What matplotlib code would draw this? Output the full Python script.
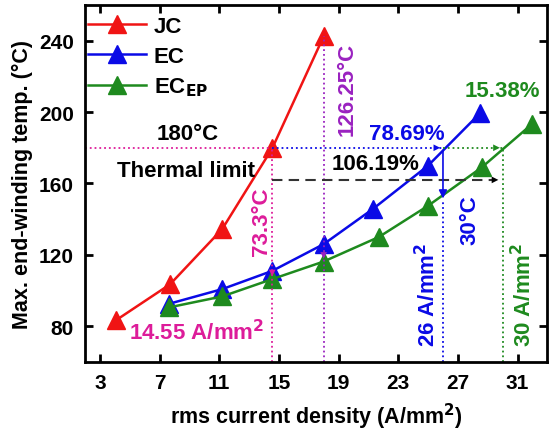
import numpy as np
import matplotlib.pyplot as plt

plt.rcParams['font.family'] = ['Liberation Sans', 'DejaVu Sans']
plt.rcParams['font.weight'] = 'bold'
plt.rcParams['axes.labelweight'] = 'bold'
plt.rcParams['mathtext.default'] = 'bf'

# data
jc_j = [4.1, 7.7, 11.2, 14.55, 18.0]
jc_t = [83.5, 103.5, 134.5, 179.7, 242.5]
ec_j = [7.6, 11.2, 14.55, 18.0, 21.3, 25.0, 28.5]
ec_t = [92.5, 100.8, 111.0, 126.0, 145.7, 170.0, 199.5]
ep_j = [7.6, 11.2, 14.55, 18.0, 21.7, 25.0, 28.6, 32.0]
ep_t = [90.5, 96.7, 106.4, 116.25, 130.0, 147.5, 169.0, 193.5]

t_limit = 180
j_jc, j_ec, j_ep = 14.55, 26.0, 30.0

red = '#F01414'
blue = '#0A0AE6'
green = '#1E8A1E'
magenta = '#DD1C9A'
purple = '#9A22C0'

fig = plt.figure(figsize=(5.49, 4.31), dpi=100)
ax = fig.add_axes([0.155, 0.158, 0.842, 0.828])

ax.plot(jc_j, jc_t, '-^', color=red, lw=1.8, ms=13, label='JC')
ax.plot(ec_j, ec_t, '-^', color=blue, lw=1.8, ms=13, label='EC')
ax.plot(ep_j, ep_t, '-^', color=green, lw=1.8, ms=13, label='EC$_{EP}$')

# thermal limit lines
ax.plot([2, j_jc], [t_limit, t_limit], ':', color=magenta, lw=1.3)
ax.plot([j_jc, j_ec], [t_limit, t_limit], ':', color=blue, lw=1.3)
ax.plot([j_ec, j_ep], [t_limit, t_limit], ':', color=green, lw=1.3)
ax.plot([j_jc, j_jc], [60, t_limit], ':', color=magenta, lw=1.3)
ax.plot([18.0, 18.0], [60, 242.5], ':', color=purple, lw=1.3)
ax.plot([j_ec, j_ec], [60, 150], ':', color=blue, lw=1.3)
ax.plot([j_ep, j_ep], [60, t_limit], ':', color=green, lw=1.3)
ax.plot([j_jc, 29.4], [162, 162], '--', color='#333333', lw=1.5, dashes=(5, 3))

arw = dict(arrowstyle='-|>', mutation_scale=12, lw=0)
ax.annotate('', xy=(j_ec, t_limit), xytext=(j_ec - 1.2, t_limit),
            arrowprops=dict(arw, color=blue))
ax.annotate('', xy=(j_ep, t_limit), xytext=(j_ep - 1.2, t_limit),
            arrowprops=dict(arw, color=green))
ax.annotate('', xy=(29.9, 162), xytext=(28.5, 162),
            arrowprops=dict(arw, color='black'))
ax.annotate('', xy=(j_jc, 106.4), xytext=(j_jc, 113),
            arrowprops=dict(arw, color=magenta))
ax.annotate('', xy=(18.0, 116.25), xytext=(18.0, 123),
            arrowprops=dict(arw, color=purple))
ax.annotate('', xy=(j_ec, 150), xytext=(j_ec, t_limit),
            arrowprops=dict(arrowstyle='-|>', mutation_scale=12, lw=1.2,
                            color=blue))

fs = 16
ax.text(8.9, 188, '180°C', fontsize=fs, ha='center', va='center')
ax.text(8.8, 167, 'Thermal limit', fontsize=fs, ha='center', va='center')
ax.text(9.5, 77, '14.55 A/mm$^2$', fontsize=fs, color=magenta,
        ha='center', va='center')
ax.text(13.8, 139, '73.3°C', fontsize=fs, color=magenta, rotation=90,
        ha='center', va='center')
ax.text(19.6, 213, '126.25°C', fontsize=fs, color=purple, rotation=90,
        ha='center', va='center')
ax.text(23.6, 188, '78.69%', fontsize=fs, color=blue,
        ha='center', va='center')
ax.text(21.5, 171, '106.19%', fontsize=fs, color='black',
        ha='center', va='center')
ax.text(30.0, 212, '15.38%', fontsize=fs, color=green,
        ha='center', va='center')
ax.text(27.8, 140, '30°C', fontsize=fs, color=blue, rotation=90,
        ha='center', va='center')
ax.text(25.0, 98, '26 A/mm$^2$', fontsize=fs, color=blue, rotation=90,
        ha='center', va='center')
ax.text(31.4, 98, '30 A/mm$^2$', fontsize=fs, color=green, rotation=90,
        ha='center', va='center')

ax.set_xlim(2, 33)
ax.set_ylim(60, 260)
ax.set_xticks([3, 7, 11, 15, 19, 23, 27, 31])
ax.set_yticks([80, 120, 160, 200, 240])
ax.tick_params(direction='in', top=True, right=True, labeltop=False,
               labelright=False, labelsize=15, width=2, length=6, pad=8)
for lab in ax.get_xticklabels() + ax.get_yticklabels():
    lab.set_fontweight('bold')
for s in ax.spines.values():
    s.set_linewidth(2)

ax.set_xlabel('rms current density (A/mm$^2$)', fontsize=15.5, labelpad=6)
ax.set_ylabel('Max. end-winding temp. (°C)', fontsize=15.5, labelpad=4)

ax.legend(loc='upper left', bbox_to_anchor=(-0.005, 0.985), fontsize=16,
          frameon=False, handlelength=2.6, borderaxespad=0.05,
          borderpad=0.2, labelspacing=0.4, handletextpad=0.35)

fig.savefig('out.png', dpi=100)
